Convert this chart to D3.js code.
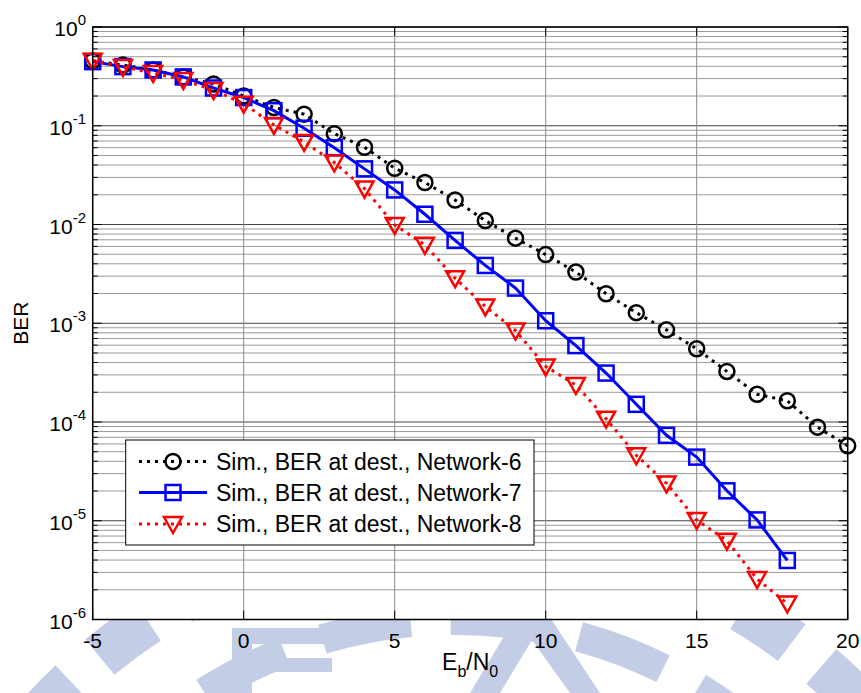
<!DOCTYPE html>
<html>
<head>
<meta charset="UTF-8">
<title>BER vs Eb/N0</title>
<script src="https://d3js.org/d3.v7.min.js"></script>
<style>
  body { margin: 0; background: #fff; }
  text { font-family: "Liberation Sans", Arial, sans-serif; fill: #000; }
</style>
</head>
<body>
<svg id="chart" width="861" height="693"></svg>
<script>
// data
const snr = d3.range(-5, 21);
const net6 = [0.453, 0.412, 0.367, 0.312, 0.265, 0.200, 0.153, 0.131, 0.0832, 0.0606,
  0.0371, 0.0266, 0.0177, 0.01096, 0.00727, 0.00496, 0.00330, 0.00199, 0.00128, 0.000857,
  0.000551, 0.000325, 0.000191, 0.000164, 8.87e-5, 5.74e-5];
const net7 = [0.446, 0.397, 0.367, 0.312, 0.241, 0.193, 0.142, 0.0944, 0.060, 0.0366,
  0.0224, 0.0127, 0.0069, 0.00385, 0.00227, 0.00106, 0.000594, 0.000313, 0.000151, 7.33e-5,
  4.41e-5, 2.01e-5, 1.02e-5, 3.96e-6];
const net8 = [0.456, 0.394, 0.342, 0.291, 0.230, 0.1675, 0.102, 0.0686, 0.0425, 0.0231,
  0.0099, 0.00622, 0.00286, 0.00148, 0.000844, 0.000365, 0.000237, 0.000108, 4.6e-5, 2.39e-5,
  1.02e-5, 6.28e-6, 2.57e-6, 1.45e-6];
const seriesNames = ["Sim., BER at dest., Network-6", "Sim., BER at dest., Network-7", "Sim., BER at dest., Network-8"];
const xTicks = [-5, 0, 5, 10, 15, 20];
const yExps = [0, -1, -2, -3, -4, -5, -6];

const svg = d3.select("#chart");
const pL = 92.7, pR = 847.7, pT = 27, pB = 619.5;

const x = d3.scaleLinear().domain([-5, 20]).range([pL, pR]);
const y = d3.scaleLog().domain([1e-6, 1]).range([pB, pT]);

// faint watermark behind the axes
const wm = svg.append("g").attr("fill", "none").attr("stroke", "#c3cde6");
wm.append("circle").attr("cx", 455).attr("cy", 1090).attr("r", 560)
  .attr("stroke-width", 46).attr("stroke-dasharray", "60 38");
wm.append("circle").attr("cx", 455).attr("cy", 1090).attr("r", 470)
  .attr("stroke-width", 30).attr("stroke-dasharray", "90 40");
const wmf = svg.append("g").attr("fill", "#c3cde6");
wmf.append("rect").attr("x", 232).attr("y", 628).attr("width", 100).attr("height", 16);
wmf.append("rect").attr("x", 252).attr("y", 658).attr("width", 80).attr("height", 14);
wmf.append("rect").attr("x", 232).attr("y", 628).attr("width", 20).attr("height", 65);
wmf.append("path").attr("d", "M470,693 L520,610 L545,610 L600,693 L570,693 L532,640 L500,693 Z");

// plot background
svg.append("rect").attr("x", pL).attr("y", pT)
  .attr("width", pR - pL).attr("height", pB - pT).attr("fill", "#fff");

// grid
const minors = [];
for (let e = -6; e < 0; e++) for (let m = 2; m <= 9; m++) minors.push(m * Math.pow(10, e));
const grid = svg.append("g");
grid.selectAll(".gminor").data(minors).enter().append("line")
  .attr("x1", pL).attr("x2", pR)
  .attr("y1", d => y(d)).attr("y2", d => y(d))
  .attr("stroke", "#9a9a9a").attr("stroke-width", 1);
grid.selectAll(".gmajor").data(yExps).enter().append("line")
  .attr("x1", pL).attr("x2", pR)
  .attr("y1", d => y(Math.pow(10, d))).attr("y2", d => y(Math.pow(10, d)))
  .attr("stroke", "#444").attr("stroke-width", 1);
grid.selectAll(".gx").data(xTicks).enter().append("line")
  .attr("x1", d => x(d)).attr("x2", d => x(d))
  .attr("y1", pT).attr("y2", pB)
  .attr("stroke", "#8a8a8a").attr("stroke-width", 1);

// ticks
const tk = svg.append("g").attr("stroke", "#000").attr("stroke-width", 1);
yExps.forEach(e => {
  const yy = y(Math.pow(10, e));
  tk.append("line").attr("x1", pL).attr("x2", pL + 9).attr("y1", yy).attr("y2", yy);
  tk.append("line").attr("x1", pR).attr("x2", pR - 9).attr("y1", yy).attr("y2", yy);
});
minors.forEach(v => {
  const yy = y(v);
  tk.append("line").attr("x1", pL).attr("x2", pL + 5).attr("y1", yy).attr("y2", yy);
  tk.append("line").attr("x1", pR).attr("x2", pR - 5).attr("y1", yy).attr("y2", yy);
});
xTicks.forEach(t => {
  tk.append("line").attr("x1", x(t)).attr("x2", x(t)).attr("y1", pB).attr("y2", pB - 9);
  tk.append("line").attr("x1", x(t)).attr("x2", x(t)).attr("y1", pT).attr("y2", pT + 9);
});

// tick labels
svg.selectAll(".xl").data(xTicks).enter().append("text")
  .attr("x", d => x(d)).attr("y", pB + 28)
  .attr("text-anchor", "middle").attr("font-size", 21)
  .text(d => d);
const yl = svg.selectAll(".yl").data(yExps).enter().append("text")
  .attr("x", 86).attr("y", d => y(Math.pow(10, d)) + 9)
  .attr("text-anchor", "end").attr("font-size", 21);
yl.append("tspan").text("10");
yl.append("tspan").attr("font-size", 15).attr("dy", -11).text(d => d);

// axis labels
svg.append("text").attr("transform", "translate(28," + ((pT + pB) / 2) + ") rotate(-90)")
  .attr("text-anchor", "middle").attr("font-size", 21).text("BER");
const xlab = svg.append("text").attr("x", (pL + pR) / 2).attr("y", 670)
  .attr("text-anchor", "middle").attr("font-size", 23);
xlab.append("tspan").text("E");
xlab.append("tspan").attr("font-size", 16).attr("dy", 7).text("b");
xlab.append("tspan").attr("dy", -7).text("/N");
xlab.append("tspan").attr("font-size", 16).attr("dy", 7).text("0");

// series
const defs = [
  { vals: net6, color: "#000", dash: "3 5", marker: "circle" },
  { vals: net7, color: "#0000ff", dash: null, marker: "square" },
  { vals: net8, color: "#ff0000", dash: "3 5", marker: "triangle" }
];
const line = d3.line().x(d => x(d[0])).y(d => y(d[1]));

function drawMarker(g, type, color, cx, cy) {
  if (type === "circle") {
    g.append("circle").attr("cx", cx).attr("cy", cy).attr("r", 7.5)
      .attr("fill", "none").attr("stroke", color).attr("stroke-width", 2.5);
  } else if (type === "square") {
    g.append("rect").attr("x", cx - 7.5).attr("y", cy - 7.5).attr("width", 15).attr("height", 15)
      .attr("fill", "none").attr("stroke", color).attr("stroke-width", 2.5);
  } else {
    g.append("path").attr("d", `M${cx - 9},${cy - 7} L${cx + 9},${cy - 7} L${cx},${cy + 9} Z`)
      .attr("fill", "none").attr("stroke", color).attr("stroke-width", 2.5)
      .attr("stroke-linejoin", "miter");
  }
}

defs.forEach(s => {
  const pts = s.vals.map((v, i) => [snr[i], v]);
  const p = svg.append("path").attr("d", line(pts)).attr("fill", "none")
    .attr("stroke", s.color).attr("stroke-width", 3);
  if (s.dash) p.attr("stroke-dasharray", s.dash);
  const g = svg.append("g");
  pts.forEach(d => drawMarker(g, s.marker, s.color, x(d[0]), y(d[1])));
});

// axes box
svg.append("rect").attr("x", pL).attr("y", pT)
  .attr("width", pR - pL).attr("height", pB - pT)
  .attr("fill", "none").attr("stroke", "#000").attr("stroke-width", 1.5);

// legend
const lg = svg.append("g");
lg.append("rect").attr("x", 125.7).attr("y", 440).attr("width", 408.3).attr("height", 105)
  .attr("fill", "#fff").attr("stroke", "#000").attr("stroke-width", 1);
const rowY = [461.5, 492.5, 524];
defs.forEach((s, i) => {
  const l = lg.append("line").attr("x1", 139).attr("x2", 207)
    .attr("y1", rowY[i]).attr("y2", rowY[i])
    .attr("stroke", s.color).attr("stroke-width", 3);
  if (s.dash) l.attr("stroke-dasharray", s.dash);
  drawMarker(lg, s.marker, s.color, 173, rowY[i]);
  lg.append("text").attr("x", 216).attr("y", rowY[i] + 8).attr("font-size", 23)
    .text(seriesNames[i]);
});
</script>
</body>
</html>
